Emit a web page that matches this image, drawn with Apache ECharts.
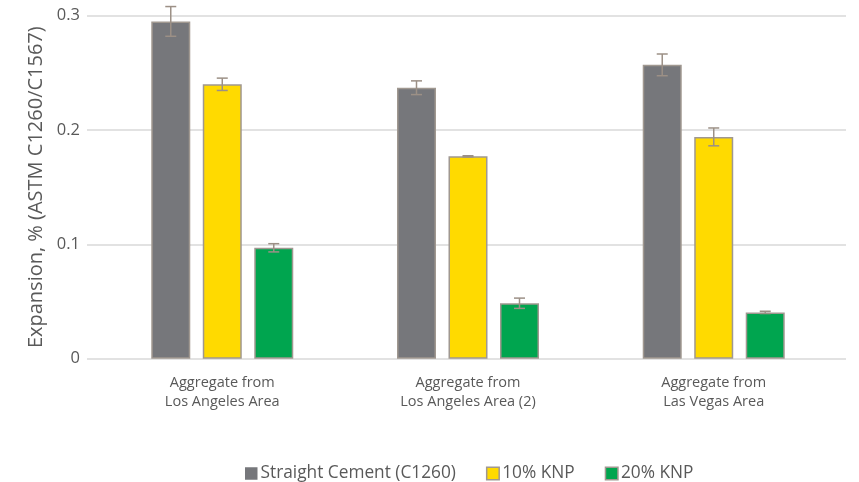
<!DOCTYPE html>
<html>
<head>
<meta charset="utf-8">
<script src="https://cdn.jsdelivr.net/npm/echarts@6/dist/echarts.min.js"></script>
<style>html,body{margin:0;padding:0;background:#fff}#c{width:859px;height:482px}</style>
</head>
<body>
<div id="c"></div>
<script>
var categories = ['Aggregate from\nLos Angeles Area', 'Aggregate from\nLos Angeles Area (2)', 'Aggregate from\nLas Vegas Area'];
var seriesNames = ['Straight Cement (C1260)', '10% KNP', '20% KNP'];
var straight = [0.295, 0.237, 0.257];
var knp10 = [0.240, 0.177, 0.194];
var knp20 = [0.097, 0.0485, 0.0405];
var errStraight = [0.013, 0.006, 0.0095];
var errKnp10 = [0.0054, 0.0005, 0.0078];
var errKnp20 = [0.0036, 0.0045, 0.001];
var yTicks = [0, 0.1, 0.2, 0.3];

var colors = ['#76777B', '#FFDA00', '#00A54F'];
var borderCol = '#A09890';
var errCol = '#9C9086';
var barW = 39, gapPx = 12.5;
var FONT = 'Open Sans';
var values = [straight, knp10, knp20];
var errs = [errStraight, errKnp10, errKnp20];

var chart = echarts.init(document.getElementById('c'));
var series = [];
values.forEach(function (vals, i) {
  series.push({
    name: seriesNames[i], type: 'bar', xAxisIndex: 1, yAxisIndex: 1,
    barWidth: barW, barGap: (gapPx / barW * 100) + '%',
    data: vals,
    itemStyle: { color: colors[i], borderColor: borderCol, borderWidth: 1.5 },
    emphasis: { disabled: true }
  });
});
values.forEach(function (vals, i) {
  var offset = (i - 1) * (barW + gapPx);
  series.push({
    type: 'custom', xAxisIndex: 1, yAxisIndex: 1, silent: true, z: 10,
    data: vals.map(function (v, j) { return [j, v, errs[i][j]]; }),
    renderItem: function (params, api) {
      var x = api.value(0), v = api.value(1), e = api.value(2);
      var hi = api.coord([x, v + e]);
      var lo = api.coord([x, v - e]);
      var cx = hi[0] + offset;
      var cap = 5.5;
      var st = { stroke: errCol, lineWidth: 1.5 };
      return { type: 'group', children: [
        { type: 'line', shape: { x1: cx, y1: hi[1], x2: cx, y2: lo[1] }, style: st },
        { type: 'line', shape: { x1: cx - cap, y1: hi[1], x2: cx + cap, y2: hi[1] }, style: st },
        { type: 'line', shape: { x1: cx - cap, y1: lo[1], x2: cx + cap, y2: lo[1] }, style: st }
      ]};
    }
  });
});

chart.setOption({
  animation: false,
  textStyle: { fontFamily: FONT },
  grid: [
    { left: 87, right: 13, top: 15.7, bottom: 123.3 },
    { left: 99.4, right: 22.4, top: 15.7, bottom: 123.3 }
  ],
  xAxis: [
    { gridIndex: 0, type: 'value', show: false, min: 0, max: 1 },
    { gridIndex: 1, type: 'category', data: categories,
      axisLine: { show: false }, axisTick: { show: false },
      axisLabel: { color: '#595959', fontSize: 14.5, lineHeight: 19, margin: 14.5, fontFamily: FONT } }
  ],
  yAxis: [
    { gridIndex: 0, type: 'value', min: yTicks[0], max: yTicks[yTicks.length - 1], interval: 0.1,
      name: 'Expansion, % (ASTM C1260/C1567)', nameLocation: 'middle', nameGap: 38,
      nameTextStyle: { color: '#595959', fontSize: 20, fontFamily: FONT },
      axisLine: { show: false }, axisTick: { show: false },
      axisLabel: { color: '#595959', fontSize: 16.5, margin: 7, fontFamily: FONT,
        formatter: function (v) { return String(Math.round(v * 10) / 10); } },
      splitLine: { lineStyle: { color: '#D9D9D9', width: 1.5 } } },
    { gridIndex: 1, type: 'value', min: yTicks[0], max: yTicks[yTicks.length - 1], interval: 0.1, show: false,
      splitLine: { show: false } }
  ],
  legend: {
    data: seriesNames.map(function (n, i) {
      return { name: n, itemStyle: { color: colors[i], borderColor: i === 0 ? colors[0] : borderCol, borderWidth: i === 0 ? 0 : 1.5 } };
    }),
    top: 460, left: 240, icon: 'rect', itemWidth: 12.5, itemHeight: 12.5, itemGap: 30,
    textStyle: { color: '#595959', fontSize: 17.3, fontFamily: FONT, padding: [0, 0, 0, -2] },
    selectedMode: false
  },
  series: series
});
</script>
</body>
</html>
